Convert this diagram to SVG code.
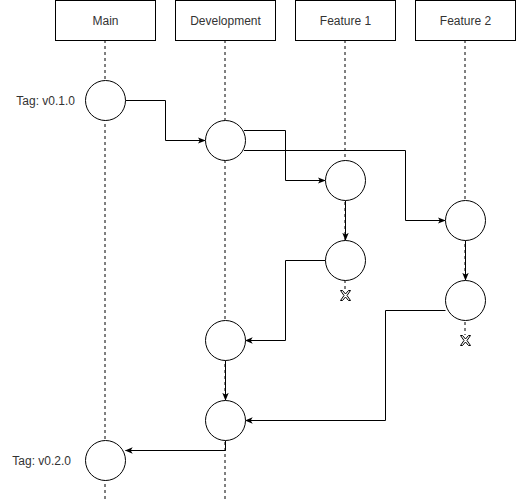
<svg xmlns="http://www.w3.org/2000/svg" width="516" height="502" viewBox="0 0 516 502">
<defs>
<marker id="arr" viewBox="0 0 10 10" refX="9" refY="5" markerWidth="8" markerHeight="8" markerUnits="userSpaceOnUse" orient="auto">
<path d="M0,1 L10,5 L0,9 L2.5,5 Z" fill="#000"/>
</marker>
<style>
.box{fill:#fff;stroke:#000;stroke-width:1}
.life{stroke:#000;stroke-width:1;stroke-dasharray:3 3;fill:none}
.commit{fill:#fff;stroke:#000;stroke-width:1}
.edge{fill:none;stroke:#000;stroke-width:1;marker-end:url(#arr)}
.lbl{font-family:"Liberation Sans",Arial,sans-serif;font-size:12px;fill:#333}
.x{fill:#fff;stroke:#000;stroke-width:1}
</style>
</defs>
<rect width="516" height="502" fill="#fff"/>
<g id="lifelines">
<line class="life" x1="105" y1="40" x2="105" y2="502"/>
<line class="life" x1="225" y1="40" x2="225" y2="502"/>
<line class="life" x1="345" y1="40" x2="345" y2="290"/>
<line class="life" x1="465" y1="40" x2="465" y2="335"/>
</g>
<g id="main"><rect class="box" x="55.5" y="0.5" width="100" height="40"/><text class="lbl" x="105.5" y="24.5" text-anchor="middle">Main</text></g>
<g id="development"><rect class="box" x="175.5" y="0.5" width="100" height="40"/><text class="lbl" x="225.5" y="24.5" text-anchor="middle">Development</text></g>
<g id="feature1"><rect class="box" x="295.5" y="0.5" width="100" height="40"/><text class="lbl" x="345.5" y="24.5" text-anchor="middle">Feature 1</text></g>
<g id="feature2"><rect class="box" x="415.5" y="0.5" width="100" height="40"/><text class="lbl" x="465.5" y="24.5" text-anchor="middle">Feature 2</text></g>
<g id="connectors">
<path class="edge" d="M125.5,100.5 H165.5 V140.5 H205"/>
<path class="edge" d="M244,130.5 H285.5 V180.5 H325"/>
<path class="edge" d="M244,150.5 H405.5 V220.5 H445"/>
<path class="edge" d="M345.5,200.5 V240"/>
<path class="edge" d="M465.5,240.5 V280"/>
<path class="edge" d="M325.5,260.5 H285.5 V340.5 H245.5"/>
<path class="edge" d="M225.5,360.5 V400"/>
<path class="edge" d="M445.5,310.5 H385.5 V420.5 H245.5"/>
<path class="edge" d="M225.5,440.5 V450.5 H125.5"/>
</g>
<g id="c1"><circle class="commit" cx="105.5" cy="100.5" r="20"/><text class="lbl" x="75" y="104.5" text-anchor="end">Tag: v0.1.0</text></g>
<g id="c2"><circle class="commit" cx="225.5" cy="140.5" r="20"/></g>
<g id="c3"><circle class="commit" cx="345.5" cy="180.5" r="20"/></g>
<g id="c4"><circle class="commit" cx="465.5" cy="220.5" r="20"/></g>
<g id="c5"><circle class="commit" cx="345.5" cy="260.5" r="20"/></g>
<g id="c6"><circle class="commit" cx="465.5" cy="300.5" r="20"/></g>
<g id="c7"><circle class="commit" cx="225.5" cy="340.5" r="20"/></g>
<g id="c8"><circle class="commit" cx="225.5" cy="420.5" r="20"/></g>
<g id="c9"><circle class="commit" cx="105.5" cy="460.5" r="20"/><text class="lbl" x="71" y="464.5" text-anchor="end">Tag: v0.2.0</text></g>
<g id="x1"><path class="x" transform="translate(345.5,295.5)" d="M-5,-5 H-3 L0,-1.5 L3,-5 H5 L1.5,0 L5,5 H3 L0,1.5 L-3,5 H-5 L-1.5,0 Z"/></g>
<g id="x2"><path class="x" transform="translate(465.5,340.5)" d="M-5,-5 H-3 L0,-1.5 L3,-5 H5 L1.5,0 L5,5 H3 L0,1.5 L-3,5 H-5 L-1.5,0 Z"/></g>
</svg>
